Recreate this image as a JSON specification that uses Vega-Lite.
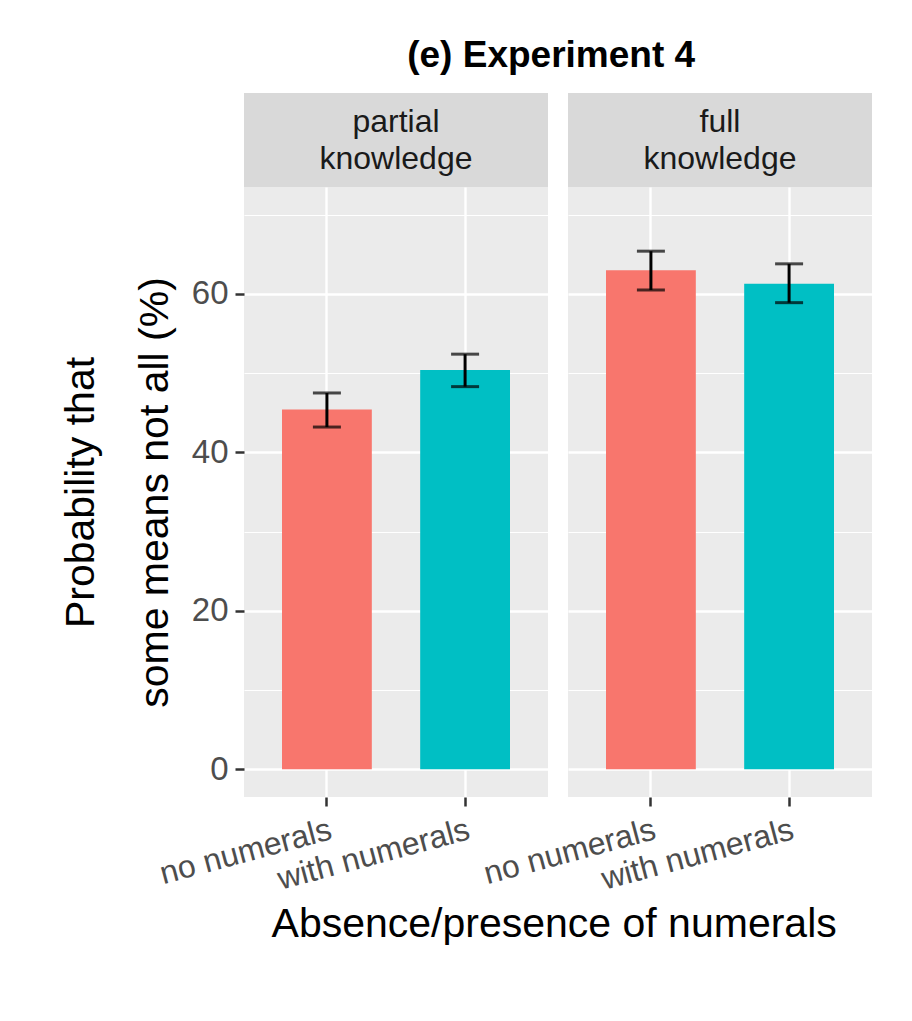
{
  "$schema": "https://vega.github.io/schema/vega-lite/v6.json",
  "background": "white",
  "padding": {"left": 60, "top": 37, "right": 20, "bottom": 40},
  "title": {"text": "(e) Experiment 4", "fontSize": 37, "fontWeight": "bold", "font": "Liberation Sans", "color": "black", "anchor": "middle", "dx": 85, "offset": 18},
  "config": {
    "font": "Liberation Sans",
    "view": {"stroke": null},
    "axis": {"domain": false, "tickColor": "#333333", "tickWidth": 2.5, "tickSize": 9, "labelColor": "#4d4d4d", "labelFont": "Liberation Sans", "titleFont": "Liberation Sans", "titleColor": "black", "titleFontWeight": "normal", "gridColor": "white"}
  },
  "datasets": {
    "bars": [
      {"knowledge": "partial knowledge", "numerals": "no numerals", "mean": 45.4, "lo": 43.2, "hi": 47.5},
      {"knowledge": "partial knowledge", "numerals": "with numerals", "mean": 50.4, "lo": 48.3, "hi": 52.4},
      {"knowledge": "full knowledge", "numerals": "no numerals", "mean": 63.0, "lo": 60.5, "hi": 65.4},
      {"knowledge": "full knowledge", "numerals": "with numerals", "mean": 61.3, "lo": 58.9, "hi": 63.8}
    ],
    "strips": [
      {"knowledge": "partial knowledge"},
      {"knowledge": "full knowledge"}
    ]
  },
  "vconcat": [
    {
      "title": {"text": "Absence/presence of numerals", "orient": "bottom", "fontSize": 41, "fontWeight": "normal", "color": "black", "font": "Liberation Sans", "anchor": "middle", "dx": 88, "offset": 10},
      "columns": 2,
      "spacing": {"row": 0, "column": 20},
      "bounds": "flush",
      "concat": [
        {
          "width": 304, "height": 94,
          "view": {"fill": "#d9d9d9", "stroke": null},
          "data": {"name": "strips"},
          "transform": [{"filter": "datum.knowledge == 'partial knowledge'"}],
          "mark": {"type": "text", "lineBreak": " ", "fontSize": 32, "lineHeight": 37, "dy": -18, "color": "#1a1a1a", "baseline": "middle", "align": "center"},
          "encoding": {"text": {"field": "knowledge", "type": "nominal"}}
        },
        {
          "width": 304, "height": 94,
          "view": {"fill": "#d9d9d9", "stroke": null},
          "data": {"name": "strips"},
          "transform": [{"filter": "datum.knowledge == 'full knowledge'"}],
          "mark": {"type": "text", "lineBreak": " ", "fontSize": 32, "lineHeight": 37, "dy": -18, "color": "#1a1a1a", "baseline": "middle", "align": "center"},
          "encoding": {"text": {"field": "knowledge", "type": "nominal"}}
        },
        {
          "width": 304, "height": 610,
          "view": {"fill": "#ebebeb", "stroke": null},
          "data": {"name": "bars"},
          "transform": [{"filter": "datum.knowledge == 'partial knowledge'"}],
          "encoding": {
            "x": {"field": "numerals", "type": "nominal", "sort": ["no numerals", "with numerals"],
              "scale": {"paddingInner": 0.35, "paddingOuter": 0.275},
              "axis": {"title": null, "labelAngle": -15, "labelAlign": "right", "labelBaseline": "top", "labelFontSize": 32, "labelPadding": 8, "labelLimit": 400, "grid": true, "gridWidth": 2.4, "bandPosition": 0.5}}
          },
          "layer": [
            {
              "mark": {"type": "bar"},
              "encoding": {
                "y": {"field": "mean", "type": "quantitative", "scale": {"domain": [-3.5, 73.5], "nice": false, "zero": false},
                  "axis": {"orient": "left", "values": [0, 10, 20, 30, 40, 50, 60, 70], "grid": true,
                    "gridWidth": {"condition": {"test": "datum.value % 20 === 0", "value": 2.4}, "value": 1.2},
                    "tickOpacity": {"condition": {"test": "datum.value % 20 === 0", "value": 1}, "value": 0},
                    "labelExpr": "datum.value % 20 === 0 ? datum.label : ''",
                    "labelFontSize": 33, "labelPadding": 7, "title": ["Probability that", "some means not all (%)"], "titleFontSize": 41, "titleLineHeight": 74, "titlePadding": 15}},
                "y2": {"datum": 0},
                "color": {"field": "numerals", "type": "nominal", "scale": {"domain": ["no numerals", "with numerals"], "range": ["#F8766D", "#00BFC4"]}, "legend": null}
              }
            },
            {
              "mark": {"type": "rule", "color": "black", "strokeWidth": 3},
              "encoding": {
                "y": {"field": "lo", "type": "quantitative"},
                "y2": {"field": "hi"}
              }
            },
            {
              "mark": {"type": "tick", "color": "black", "thickness": 3, "size": 28},
              "encoding": {"y": {"field": "lo", "type": "quantitative"}}
            },
            {
              "mark": {"type": "tick", "color": "black", "thickness": 3, "size": 28},
              "encoding": {"y": {"field": "hi", "type": "quantitative"}}
            }
          ]
        },
        {
          "width": 304, "height": 610,
          "view": {"fill": "#ebebeb", "stroke": null},
          "data": {"name": "bars"},
          "transform": [{"filter": "datum.knowledge == 'full knowledge'"}],
          "encoding": {
            "x": {"field": "numerals", "type": "nominal", "sort": ["no numerals", "with numerals"],
              "scale": {"paddingInner": 0.35, "paddingOuter": 0.275},
              "axis": {"title": null, "labelAngle": -15, "labelAlign": "right", "labelBaseline": "top", "labelFontSize": 32, "labelPadding": 8, "labelLimit": 400, "grid": true, "gridWidth": 2.4, "bandPosition": 0.5}}
          },
          "layer": [
            {
              "mark": {"type": "bar"},
              "encoding": {
                "y": {"field": "mean", "type": "quantitative", "scale": {"domain": [-3.5, 73.5], "nice": false, "zero": false},
                  "axis": {"orient": "left", "values": [0, 10, 20, 30, 40, 50, 60, 70], "grid": true,
                    "gridWidth": {"condition": {"test": "datum.value % 20 === 0", "value": 2.4}, "value": 1.2},
                    "labels": false, "ticks": false, "title": null}},
                "y2": {"datum": 0},
                "color": {"field": "numerals", "type": "nominal", "scale": {"domain": ["no numerals", "with numerals"], "range": ["#F8766D", "#00BFC4"]}, "legend": null}
              }
            },
            {
              "mark": {"type": "rule", "color": "black", "strokeWidth": 3},
              "encoding": {
                "y": {"field": "lo", "type": "quantitative"},
                "y2": {"field": "hi"}
              }
            },
            {
              "mark": {"type": "tick", "color": "black", "thickness": 3, "size": 28},
              "encoding": {"y": {"field": "lo", "type": "quantitative"}}
            },
            {
              "mark": {"type": "tick", "color": "black", "thickness": 3, "size": 28},
              "encoding": {"y": {"field": "hi", "type": "quantitative"}}
            }
          ]
        }
      ]
    }
  ]
}
